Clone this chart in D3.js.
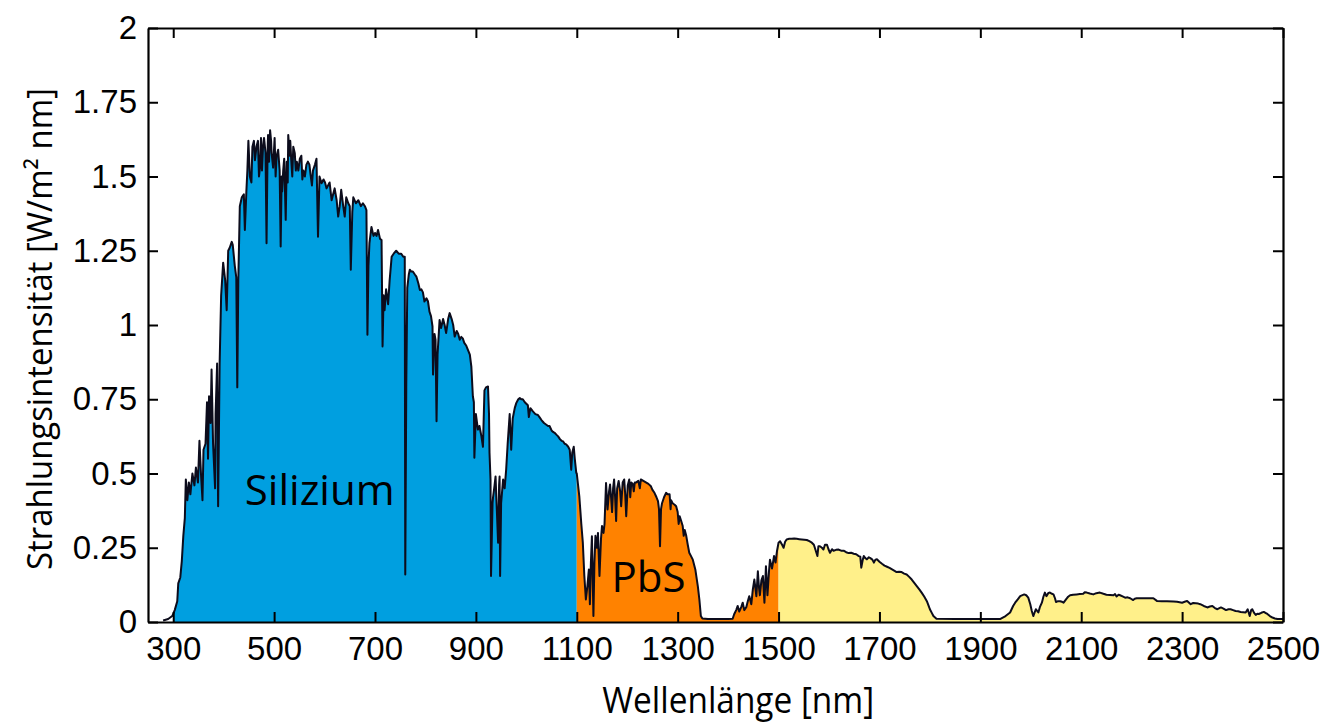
<!DOCTYPE html>
<html>
<head>
<meta charset="utf-8">
<script src="https://cdn.jsdelivr.net/npm/d3@7"></script>
<style>
body { margin: 0; background: #fff; }
svg { display: block; }
</style>
</head>
<body>
<svg width="1331" height="723"></svg>
<script>
// wavelength [nm] and spectral irradiance [W/m^2 nm]
var wavelength = [
	280, 290, 298, 303, 308, 310, 314, 317, 320, 323, 325, 328, 331, 334, 338, 342, 345, 349, 352, 355,
	358, 360, 364, 367, 369, 371, 374, 376, 379, 383, 384, 387, 389, 392, 395, 399, 403, 406, 409, 412,
	416, 418, 422, 425, 427, 429, 432, 436, 440, 442, 445, 447, 449, 452, 455, 457, 460, 462, 465, 468, 470, 472, 474, 476, 478,
	480, 483, 485, 487, 488, 490, 492, 494, 495, 498, 501, 503, 505, 508, 511, 513, 515, 516, 518, 520, 523, 525, 527, 528, 531,
	532, 534, 536, 538, 541, 543, 545, 548, 551, 554, 556, 558, 561, 564, 567, 570, 572, 575, 577, 581, 584, 587, 590, 594, 598, 601,
	604, 607, 610, 614, 617, 620, 624, 627, 630, 633, 637, 640, 643, 647, 650, 652, 655, 657, 662, 667,
	672, 676, 680, 683, 685, 687, 689, 693, 697, 700, 703, 706, 710, 713, 715, 717, 719, 722, 726, 729,
	733, 737, 742, 747, 752, 756, 759, 760, 762, 764, 767, 769, 772, 775, 779, 782, 786, 789, 792, 795,
	798, 802, 805, 808, 811, 814, 815, 818, 820, 822, 824, 828, 831, 835, 838, 841, 845, 848, 852, 855,
	858, 862, 865, 868, 871, 874, 877, 881, 884, 888, 891, 894, 896, 897, 900, 904, 907, 911, 914, 917,
	920, 924, 926, 927, 929, 930, 933, 934, 937, 939, 941, 944, 946, 947, 948, 950, 954, 957, 960, 963,
	967, 970, 973, 977, 980, 984, 987, 990, 993, 997, 1000, 1003, 1005, 1008, 1013, 1018, 1023, 1026, 1030, 1035,
	1039, 1043, 1046, 1050, 1053, 1056, 1060, 1063, 1067, 1070, 1073, 1076, 1079, 1083, 1086, 1089, 1091, 1094, 1096, 1099,
	1100, 1105, 1109, 1112, 1115, 1118, 1121, 1124, 1126, 1128, 1130, 1133, 1135, 1137, 1140, 1142, 1145, 1148, 1150, 1153,
	1155, 1158, 1161, 1164, 1166, 1168, 1170, 1172, 1174, 1176, 1178, 1180, 1183, 1186, 1188, 1191, 1194, 1196, 1198, 1201,
	1204, 1206, 1208, 1211, 1213, 1215, 1218, 1222, 1225, 1227, 1232, 1237, 1242, 1247, 1250, 1254, 1258, 1261, 1263, 1265, 1267, 1269, 1273,
	1277, 1280, 1284, 1286, 1287, 1290, 1294, 1297, 1300, 1302, 1304, 1307, 1310, 1312, 1314, 1317, 1320, 1323, 1327, 1330, 1335, 1340, 1343,
	1346, 1349, 1360, 1380, 1400, 1409, 1412, 1416, 1419, 1422, 1426, 1429, 1432, 1436, 1439, 1442, 1446, 1449, 1452, 1456,
	1459, 1461, 1463, 1466, 1469, 1472, 1475, 1478, 1481, 1483, 1487, 1491, 1494, 1497, 1500, 1503, 1507, 1510, 1513, 1516,
	1521, 1526, 1531, 1536, 1541, 1546, 1551, 1556, 1561, 1566, 1570, 1573, 1577, 1579, 1582, 1586, 1589, 1592, 1596, 1599,
	1602, 1606, 1609, 1614, 1619, 1624, 1629, 1634, 1639, 1644, 1649, 1654, 1659, 1662, 1664, 1667, 1669, 1672, 1675, 1679,
	1682, 1686, 1689, 1692, 1695, 1700, 1705, 1710, 1715, 1720, 1725, 1730, 1734, 1739, 1744, 1749, 1754, 1759, 1764, 1769,
	1774, 1779, 1784, 1789, 1794, 1797, 1800, 1804, 1807, 1813, 1850, 1900, 1939, 1950, 1959, 1965, 1969, 1975, 1979, 1987,
	1991, 1995, 1999, 2002, 2005, 2010, 2015, 2018, 2022, 2025, 2028, 2031, 2035, 2038, 2042, 2045, 2048, 2050, 2054, 2058,
	2062, 2065, 2068, 2071, 2074, 2078, 2084, 2091, 2097, 2104, 2107, 2111, 2117, 2124, 2130, 2137, 2144, 2150, 2157, 2164,
	2167, 2170, 2174, 2177, 2182, 2187, 2192, 2197, 2203, 2206, 2210, 2220, 2230, 2243, 2250, 2260, 2270, 2283, 2290, 2300,
	2305, 2310, 2317, 2322, 2327, 2332, 2336, 2343, 2350, 2355, 2360, 2365, 2370, 2377, 2382, 2387, 2392, 2396, 2401, 2406,
	2411, 2416, 2421, 2426, 2430, 2434, 2437, 2439, 2443, 2446, 2449, 2452, 2457, 2462, 2466, 2469, 2474, 2479, 2484, 2489,
	2500
];
var irradiance = [
	0.005, 0.01, 0.02, 0.04, 0.07, 0.13, 0.15, 0.205, 0.29, 0.35, 0.48, 0.41, 0.47, 0.43, 0.50, 0.46, 0.52, 0.47, 0.61, 0.50,
	0.41, 0.58, 0.60, 0.74, 0.55, 0.76, 0.67, 0.85, 0.60, 0.45, 0.70, 0.87, 0.39, 0.87, 1.10, 1.21, 1.15, 1.05, 1.25, 1.26,
	1.28, 1.27, 1.20, 1.16, 0.79, 1.15, 1.40, 1.43, 1.44, 1.32, 1.45, 1.52, 1.62, 1.50, 1.48, 1.60, 1.62, 1.555, 1.60, 1.62, 1.50, 1.53, 1.63, 1.52, 1.60,
	1.63, 1.58, 1.275, 1.58, 1.64, 1.55, 1.656, 1.62, 1.58, 1.53, 1.63, 1.50, 1.57, 1.59, 1.52, 1.264, 1.50, 1.45, 1.52, 1.56, 1.354, 1.55, 1.48, 1.64, 1.57,
	1.62, 1.555, 1.50, 1.60, 1.578, 1.52, 1.55, 1.52, 1.56, 1.57, 1.49, 1.52, 1.50, 1.54, 1.55, 1.54, 1.51, 1.47, 1.52, 1.54, 1.56, 1.297, 1.50, 1.477, 1.49, 1.48,
	1.46, 1.47, 1.48, 1.42, 1.44, 1.46, 1.42, 1.365, 1.40, 1.455, 1.40, 1.365, 1.43, 1.41, 1.40, 1.186, 1.38, 1.43, 1.41, 1.42,
	1.40, 1.41, 1.40, 1.387, 0.967, 1.20, 1.276, 1.33, 1.30, 1.31, 1.30, 1.32, 1.29, 1.286, 0.928, 1.10, 1.05, 1.12, 1.07, 1.15,
	1.23, 1.24, 1.25, 1.24, 1.24, 1.23, 1.23, 0.16, 0.80, 1.125, 1.17, 1.186, 1.18, 1.18, 1.17, 1.163, 1.14, 1.118, 1.12, 1.11,
	1.079, 1.09, 1.08, 1.045, 1.03, 0.995, 0.833, 0.97, 0.95, 0.676, 0.90, 1.017, 0.99, 1.02, 1.00, 0.973, 1.02, 1.04, 1.02, 1.00,
	0.961, 0.98, 0.97, 0.95, 0.96, 0.955, 0.94, 0.93, 0.917, 0.90, 0.86, 0.76, 0.74, 0.553, 0.70, 0.648, 0.66, 0.625, 0.59, 0.78,
	0.79, 0.793, 0.70, 0.57, 0.48, 0.155, 0.40, 0.42, 0.46, 0.49, 0.40, 0.267, 0.46, 0.49, 0.155, 0.40, 0.48, 0.45, 0.513, 0.60,
	0.70, 0.58, 0.685, 0.72, 0.737, 0.75, 0.754, 0.75, 0.75, 0.74, 0.735, 0.73, 0.69, 0.72, 0.709, 0.70, 0.697, 0.69, 0.68, 0.67,
	0.665, 0.66, 0.66, 0.645, 0.64, 0.637, 0.63, 0.625, 0.615, 0.61, 0.608, 0.60, 0.598, 0.59, 0.58, 0.513, 0.57, 0.59, 0.55, 0.502,
	0.50, 0.424, 0.33, 0.267, 0.155, 0.076, 0.12, 0.177, 0.06, 0.20, 0.289, 0.02, 0.20, 0.29, 0.25, 0.30, 0.155, 0.28, 0.323, 0.30,
	0.33, 0.468, 0.379, 0.44, 0.463, 0.42, 0.37, 0.45, 0.48, 0.42, 0.34, 0.45, 0.475, 0.44, 0.39, 0.47, 0.48, 0.43, 0.356, 0.46,
	0.48, 0.42, 0.47, 0.465, 0.44, 0.47, 0.47, 0.475, 0.45, 0.48, 0.475, 0.47, 0.465, 0.457, 0.445, 0.435, 0.42, 0.407, 0.38, 0.255, 0.38, 0.40, 0.42,
	0.435, 0.43, 0.43, 0.38, 0.41, 0.40, 0.395, 0.39, 0.37, 0.33, 0.356, 0.34, 0.323, 0.29, 0.31, 0.29, 0.26, 0.233, 0.22, 0.21, 0.177, 0.12, 0.076,
	0.02, 0.012, 0.01, 0.01, 0.01, 0.011, 0.026, 0.04, 0.054, 0.035, 0.05, 0.065, 0.04, 0.05, 0.07, 0.087, 0.06, 0.11, 0.143, 0.087,
	0.171, 0.12, 0.09, 0.14, 0.155, 0.065, 0.188, 0.09, 0.17, 0.21, 0.18, 0.222, 0.20, 0.24, 0.267, 0.272, 0.26, 0.25, 0.27, 0.278,
	0.28, 0.28, 0.281, 0.28, 0.279, 0.278, 0.277, 0.276, 0.272, 0.267, 0.26, 0.244, 0.222, 0.255, 0.255, 0.25, 0.244, 0.26, 0.26, 0.245,
	0.233, 0.245, 0.24, 0.243, 0.244, 0.24, 0.24, 0.235, 0.232, 0.233, 0.23, 0.228, 0.222, 0.22, 0.183, 0.21, 0.222, 0.215, 0.211, 0.218,
	0.215, 0.21, 0.20, 0.21, 0.211, 0.203, 0.196, 0.19, 0.186, 0.182, 0.177, 0.172, 0.168, 0.169, 0.168, 0.163, 0.16, 0.152, 0.143, 0.132,
	0.121, 0.11, 0.098, 0.085, 0.07, 0.057, 0.043, 0.03, 0.02, 0.011, 0.01, 0.01, 0.01, 0.02, 0.032, 0.054, 0.065, 0.078, 0.087, 0.093,
	0.09, 0.082, 0.06, 0.037, 0.02, 0.043, 0.032, 0.05, 0.065, 0.085, 0.099, 0.087, 0.098, 0.099, 0.095, 0.093, 0.08, 0.067, 0.07, 0.07,
	0.068, 0.065, 0.072, 0.079, 0.085, 0.09, 0.092, 0.093, 0.094, 0.095, 0.10, 0.099, 0.096, 0.093, 0.097, 0.099, 0.095, 0.092, 0.091, 0.09,
	0.094, 0.086, 0.092, 0.09, 0.086, 0.082, 0.083, 0.08, 0.074, 0.078, 0.08, 0.08, 0.08, 0.08, 0.071, 0.07, 0.07, 0.069, 0.068, 0.065,
	0.068, 0.071, 0.06, 0.064, 0.063, 0.062, 0.06, 0.054, 0.049, 0.052, 0.054, 0.047, 0.043, 0.049, 0.045, 0.04, 0.043, 0.043, 0.04, 0.037,
	0.036, 0.034, 0.033, 0.032, 0.043, 0.02, 0.04, 0.043, 0.03, 0.024, 0.028, 0.027, 0.031, 0.034, 0.03, 0.027, 0.02, 0.015, 0.012, 0.01,
	0.01
];

// absorber bands: name, from, to [nm], fill
var bandNames = ["Silizium", "PbS", ""];
var bandFrom = [300, 1100, 1500];
var bandTo = [1100, 1500, 2500];
var bandColors = ["#009fe0", "#ff8200", "#fff08a"];

var xTicks = [300, 500, 700, 900, 1100, 1300, 1500, 1700, 1900, 2100, 2300, 2500];
var yTicks = [0, 0.25, 0.5, 0.75, 1, 1.25, 1.5, 1.75, 2];

function drawChart() {
	var svg = d3.select("svg"),
		margin = {
			top: 28,
			right: 48,
			bottom: 101,
			left: 148
		},
		width = +svg.attr("width") - margin.left - margin.right,
		height = +svg.attr("height") - margin.top - margin.bottom;

	var x = d3.scaleLinear().domain([250, 2500]).range([0, width]),
		y = d3.scaleLinear().domain([0, 2]).range([height, 0]);

	var data = [];
	for (var i = 0; i < wavelength.length; i++) {
		data.push({ nm: wavelength[i], val: irradiance[i] });
	}

	var g = svg.append("g")
		.attr("transform", "translate(" + margin.left + "," + margin.top + ")");

	var defs = svg.append("defs");
	for (var b = 0; b < bandFrom.length; b++) {
		defs.append("clipPath")
			.attr("id", "band" + b)
			.append("rect")
			.attr("x", x(bandFrom[b]))
			.attr("y", 0)
			.attr("width", x(bandTo[b]) - x(bandFrom[b]))
			.attr("height", height);
	}
	defs.append("clipPath")
		.attr("id", "plot")
		.append("rect")
		.attr("width", width)
		.attr("height", height);

	var area = d3.area()
		.x(function(d) { return x(d.nm); })
		.y0(y(0))
		.y1(function(d) { return y(d.val); });

	var line = d3.line()
		.x(function(d) { return x(d.nm); })
		.y(function(d) { return y(d.val); });

	for (var b = 0; b < bandFrom.length; b++) {
		g.append("path")
			.datum(data)
			.attr("clip-path", "url(#band" + b + ")")
			.attr("fill", bandColors[b])
			.attr("d", area);
	}

	g.append("path")
		.datum(data)
		.attr("clip-path", "url(#plot)")
		.attr("fill", "none")
		.attr("stroke", "#0c0c1c")
		.attr("stroke-width", 2)
		.attr("stroke-linejoin", "round")
		.attr("d", line);

	// axes, ticks pointing inward on all four sides
	var fmt = function(d) { return String(d); };

	g.append("g")
		.attr("class", "axis")
		.attr("transform", "translate(0," + height + ")")
		.call(d3.axisBottom(x).tickValues(xTicks).tickSize(-10).tickSizeOuter(0).tickPadding(15).tickFormat(fmt));

	g.append("g")
		.attr("class", "axis")
		.call(d3.axisTop(x).tickValues(xTicks).tickSize(-10).tickSizeOuter(0).tickFormat(""));

	g.append("g")
		.attr("class", "axis")
		.call(d3.axisLeft(y).tickValues(yTicks).tickSize(-10).tickSizeOuter(0).tickPadding(11).tickFormat(fmt));

	g.append("g")
		.attr("class", "axis")
		.attr("transform", "translate(" + width + ",0)")
		.call(d3.axisRight(y).tickValues(yTicks).tickSize(-10).tickSizeOuter(0).tickFormat(""));

	g.selectAll(".axis path").attr("stroke", "#000").attr("stroke-width", 2.2);
	g.selectAll(".axis line").attr("stroke", "#000").attr("stroke-width", 2);
	g.selectAll(".axis text")
		.attr("fill", "#000")
		.style("font-family", "'Liberation Sans', Arial, sans-serif")
		.style("font-size", "33px");

	// band labels
	g.append("text")
		.attr("x", x(442))
		.attr("y", y(0.395))
		.style("font-family", "'Open Sans', sans-serif")
		.style("font-size", "42px")
		.text(bandNames[0]);

	g.append("text")
		.attr("x", x(1169))
		.attr("y", y(0.10))
		.style("font-family", "'Open Sans', sans-serif")
		.style("font-size", "42px")
		.text(bandNames[1]);

	// axis titles
	svg.append("text")
		.attr("x", margin.left + x(1420))
		.attr("y", 713)
		.attr("text-anchor", "middle")
		.attr("textLength", 272)
		.attr("lengthAdjust", "spacingAndGlyphs")
		.style("font-family", "'Open Sans', sans-serif")
		.style("font-size", "36px")
		.text("Wellenlänge [nm]");

	svg.append("text")
		.attr("transform", "translate(52," + 329 + ") rotate(-90)")
		.attr("text-anchor", "middle")
		.attr("textLength", 482)
		.attr("lengthAdjust", "spacingAndGlyphs")
		.style("font-family", "'Open Sans', sans-serif")
		.style("font-size", "34px")
		.text("Strahlungsintensität [W/m² nm]");
}

drawChart();
</script>
</body>
</html>
